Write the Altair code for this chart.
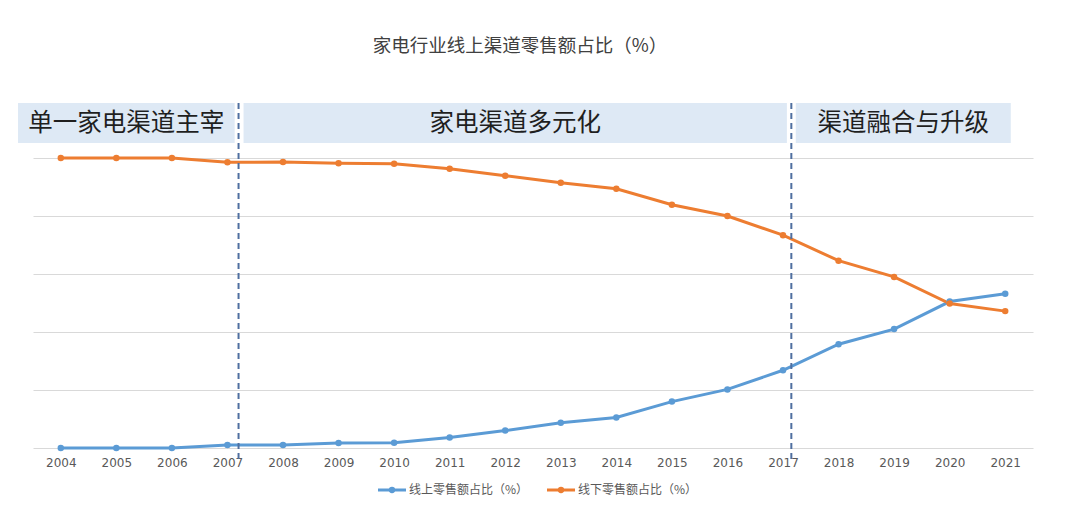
import altair as alt
import pandas as pd

TITLE = "家电行业线上渠道零售额占比（%）"
ONLINE = "线上零售额占比（%）"
OFFLINE = "线下零售额占比（%）"
COLORS = ["#5B9BD5", "#ED7D31"]

years = list(range(2004, 2022))
online = [0, 0, 0, 1.0, 1.0, 1.7, 1.8, 3.6, 6.0, 8.7, 10.5, 16.0, 20.2, 26.8, 35.8, 41.0, 50.5, 53.2]
offline = [100, 100, 100, 98.5, 98.6, 98.2, 98.0, 96.3, 93.9, 91.5, 89.4, 83.9, 80.0, 73.4, 64.6, 59.0, 49.8, 47.2]

phases = ["单一家电渠道主宰", "家电渠道多元化", "渠道融合与升级"]
phase_start = [2003.23, 2007.29, 2017.23]
phase_end = [2007.13, 2017.07, 2021.10]
dividers = [2007.2, 2017.15]
grid_values = [0, 20, 40, 60, 80, 100]

df = pd.DataFrame({
    "year": years * 2,
    "value": online + offline,
    "series": [ONLINE] * len(years) + [OFFLINE] * len(years),
})
phase_df = pd.DataFrame({"phase": phases, "start": phase_start, "end": phase_end})
phase_df["mid"] = (phase_df["start"] + phase_df["end"]) / 2
div_df = pd.DataFrame({"x": dividers})

x_scale = alt.Scale(domain=[2003.5, 2021.5], nice=False, zero=False)
y_scale = alt.Scale(domain=[0, 100], nice=False)
color_scale = alt.Scale(domain=[ONLINE, OFFLINE], range=COLORS)

x_axis = alt.Axis(
    values=years, format="d", title=None, grid=False, ticks=False, domain=False,
    labelFont="DejaVu Sans", labelFontSize=12, labelColor="#595959",
    labelPadding=9, labelFlush=False)

lines = alt.Chart(df).mark_line(
    strokeWidth=3, point=alt.OverlayMarkDef(size=42, filled=True, opacity=1)
).encode(
    x=alt.X("year:Q", scale=x_scale, axis=x_axis),
    y=alt.Y("value:Q", scale=y_scale, axis=alt.Axis(
        values=grid_values, labels=False, ticks=False, domain=False, title=None,
        grid=True, gridColor="#d9d9d9", gridWidth=1)),
    color=alt.Color("series:N", scale=color_scale, legend=None),
)

boxes = alt.Chart(phase_df).mark_rect(color="#DEE9F5").encode(
    x=alt.X("start:Q", scale=x_scale, axis=x_axis),
    x2="end:Q",
    y=alt.value(-55),
    y2=alt.value(-15),
)

box_text = alt.Chart(phase_df).mark_text(
    font="Noto Sans CJK SC", fontSize=24.5, color="#1f1f1f", baseline="middle", align="center"
).encode(
    x=alt.X("mid:Q", scale=x_scale, axis=x_axis),
    y=alt.value(-34),
    text="phase:N",
)

div_rules = alt.Chart(div_df).mark_rule(
    color="#4F6FA0", strokeWidth=2, strokeDash=[6, 4]
).encode(
    x=alt.X("x:Q", scale=x_scale, axis=x_axis),
    y=alt.value(-55),
    y2=alt.value(302),
)

title = alt.Chart(pd.DataFrame({"t": [TITLE]})).mark_text(
    font="Noto Sans CJK SC", fontSize=18.5, color="#404040", baseline="middle", align="center"
).encode(x=alt.value(487), y=alt.value(-112.5), text="t:N")

legend_layers = []
legend_x = [345, 514]
for name, col, lx in zip([ONLINE, OFFLINE], COLORS, legend_x):
    ldf = pd.DataFrame({"s": [name]})
    legend_layers.append(alt.Chart(ldf).mark_rule(color=col, strokeWidth=3).encode(
        x=alt.value(lx), x2=alt.value(lx + 28), y=alt.value(332)))
    legend_layers.append(alt.Chart(ldf).mark_point(color=col, filled=True, size=40, opacity=1).encode(
        x=alt.value(lx + 14), y=alt.value(332)))
    legend_layers.append(alt.Chart(ldf).mark_text(
        font="Noto Sans CJK SC", fontSize=12, color="#595959", align="left", baseline="middle"
    ).encode(x=alt.value(lx + 31), y=alt.value(332), text="s:N"))

chart = alt.layer(
    lines, boxes, box_text, div_rules, title, *legend_layers
).properties(
    width=1000, height=290,
    autosize=alt.AutoSizeParams(type="none"),
    padding={"left": 25, "top": 150, "right": 30, "bottom": 50},
).configure(background="white").configure_view(stroke=None)

chart.save("out.html", embed_options={"renderer": "svg", "actions": False})
